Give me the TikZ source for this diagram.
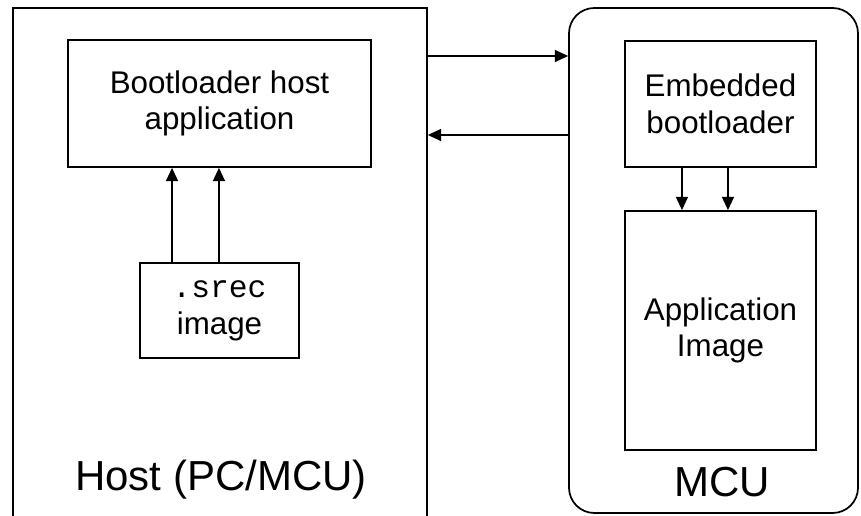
\documentclass[tikz,border=0pt]{standalone}
\usepackage{fontspec}
\setmainfont{Liberation Sans}
\setmonofont{Liberation Mono}
\usetikzlibrary{arrows.meta}

\begin{document}
\begin{tikzpicture}[x=0.75pt, y=-0.75pt, line width=1.3pt,
  block/.style={draw, align=center, inner sep=0pt, font=\fontsize{23.5}{27.5}\selectfont},
  frame/.style={draw, inner sep=0pt},
  arr/.style={-{Triangle[length=10pt, width=9pt]}},
  caption/.style={font=\fontsize{31.5}{36}\selectfont}]

  \useasboundingbox (0,0) rectangle (861,516);
  \clip (0,0) rectangle (861,516);

  % Outer frames
  \node[frame, minimum width=310.5pt, minimum height=391.5pt] (host) at (220,269) {};
  \node[frame, rounded corners=19pt, minimum width=216.75pt, minimum height=378.75pt] (mcu) at (713.5,260.5) {};

  % Host side
  \node[block, minimum width=227.25pt, minimum height=95.25pt] (hostapp) at (219.5,103.5) {Bootloader host\\application};
  \node[block, minimum width=119.25pt, minimum height=71.25pt] (srec) at (219.5,310.5) {\texttt{.srec}\\image};

  % MCU side
  \node[block, minimum width=143.25pt, minimum height=94.5pt] (embboot) at (720.5,104) {Embedded\\bootloader};
  \node[block, minimum width=143.25pt, minimum height=179.25pt] (appimg) at (720.5,330.5) {Application\\Image};

  % Labels
  \node[caption] (hostlbl) at (221,480) {Host (PC/MCU)};
  \node[caption] (mculbl) at (722,482) {MCU};

  % Links between host and MCU
  \coordinate (upper) at (0,56);
  \coordinate (lower) at (0,135);
  \draw[arr] (host.east |- upper) -- (mcu.west |- upper);
  \draw[arr] (mcu.west |- lower) -- (host.east |- lower);

  % Vertical arrows
  \draw[arr] ([xshift=-35.6pt]srec.north) -- ([xshift=-35.6pt]srec.north |- hostapp.south);
  \draw[arr] ([xshift=-0.4pt]srec.north) -- ([xshift=-0.4pt]srec.north |- hostapp.south);
  \draw[arr] ([xshift=-28.9pt]embboot.south) -- ([xshift=-28.9pt]embboot.south |- appimg.north);
  \draw[arr] ([xshift=5.6pt]embboot.south) -- ([xshift=5.6pt]embboot.south |- appimg.north);

\end{tikzpicture}
\end{document}
